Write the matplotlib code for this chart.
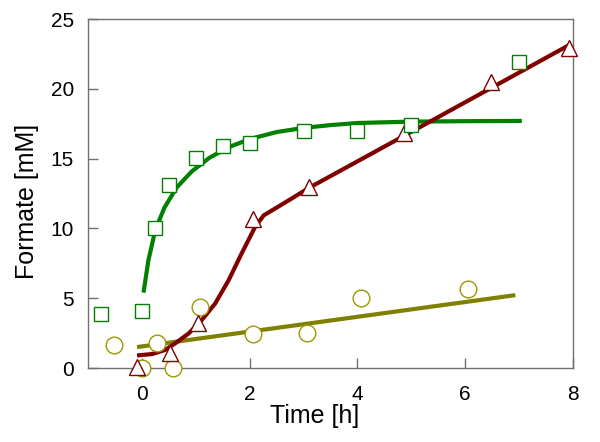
import matplotlib
matplotlib.use("Agg")
import matplotlib.pyplot as plt

plt.rcParams['font.family'] = ['Liberation Sans', 'DejaVu Sans']

sq_t = [-0.75, 0.0, 0.25, 0.5, 1.0, 1.5, 2.0, 3.0, 4.0, 5.0, 7.0]
sq_y = [3.9, 4.1, 10.0, 13.1, 15.05, 15.9, 16.1, 17.0, 17.0, 17.4, 21.9]

tri_t = [-0.1, 0.52, 1.05, 2.07, 3.1, 4.87, 6.48, 7.93]
tri_y = [0.1, 1.1, 3.2, 10.7, 12.95, 16.8, 20.5, 22.95]

circ_t = [-0.52, 0.0, 0.28, 0.58, 1.07, 2.07, 3.07, 4.07, 6.05]
circ_y = [1.65, 0.0, 1.8, 0.0, 4.4, 2.4, 2.5, 5.03, 5.67]

# fitted curves
green_t = [0.03, 0.12, 0.25, 0.42, 0.65, 0.93, 1.25, 1.6, 2.0, 2.5, 3.0, 3.5, 4.0, 5.0, 6.0, 7.05]
green_y = [5.4, 7.7, 9.9, 11.5, 12.95, 14.1, 15.05, 15.8, 16.4, 16.9, 17.2, 17.4, 17.55, 17.65, 17.68, 17.7]

red_t = [-0.09, 0.19, 0.43, 0.62, 0.87, 1.11, 1.36, 1.61, 1.85, 2.1, 2.26, 2.72, 3.1, 5.37, 7.96]
red_y = [0.9, 1.0, 1.29, 1.77, 2.48, 3.43, 4.62, 6.29, 8.2, 10.1, 10.93, 12.0, 12.9, 17.7, 23.2]

olive_t = [-0.09, 6.93]
olive_y = [1.5, 5.22]

green = '#008000'
red = '#800000'
olive = '#808000'

fig = plt.figure(figsize=(6, 4.42), dpi=100)
ax = fig.add_axes([88/600, 1-368/442, 485/600, 349/442])

ax.plot(green_t, green_y, color=green, lw=3, solid_capstyle='butt', zorder=2)
ax.plot(olive_t, olive_y, color=olive, lw=3, solid_capstyle='butt', zorder=2)
ax.plot(red_t, red_y, color=red, lw=3, solid_capstyle='butt', zorder=2.5)

ax.plot(circ_t, circ_y, 'o', ms=12, mfc='white', mec='#9a9a00', mew=1.0, clip_on=False, zorder=3)
ax.plot(tri_t, tri_y, '^', ms=12, mfc='white', mec=red, mew=1.0, clip_on=False, zorder=3.2)
ax.plot(sq_t, sq_y, 's', ms=10, mfc='white', mec=green, mew=1.0, clip_on=False, zorder=3.4)

ax.set_xlim(-1, 8)
ax.set_ylim(0, 25)
ax.set_xticks([0, 2, 4, 6, 8])
ax.set_yticks([0, 5, 10, 15, 20, 25])

for s in ax.spines.values():
    s.set_color('#707070')
    s.set_linewidth(1.0)
ax.tick_params(direction='in', length=7, width=1, color='#707070',
               labelsize=15, top=False, right=False)
ax.tick_params(axis='x', pad=12)
ax.tick_params(axis='y', pad=10)

ax.set_xlabel('Time [h]', fontsize=18)
ax.set_ylabel('Formate [mM]', fontsize=18)
ax.xaxis.set_label_coords(0.468, -0.102)
ax.yaxis.set_label_coords(-0.102, 0.478)

fig.savefig('out.png', dpi=100)
